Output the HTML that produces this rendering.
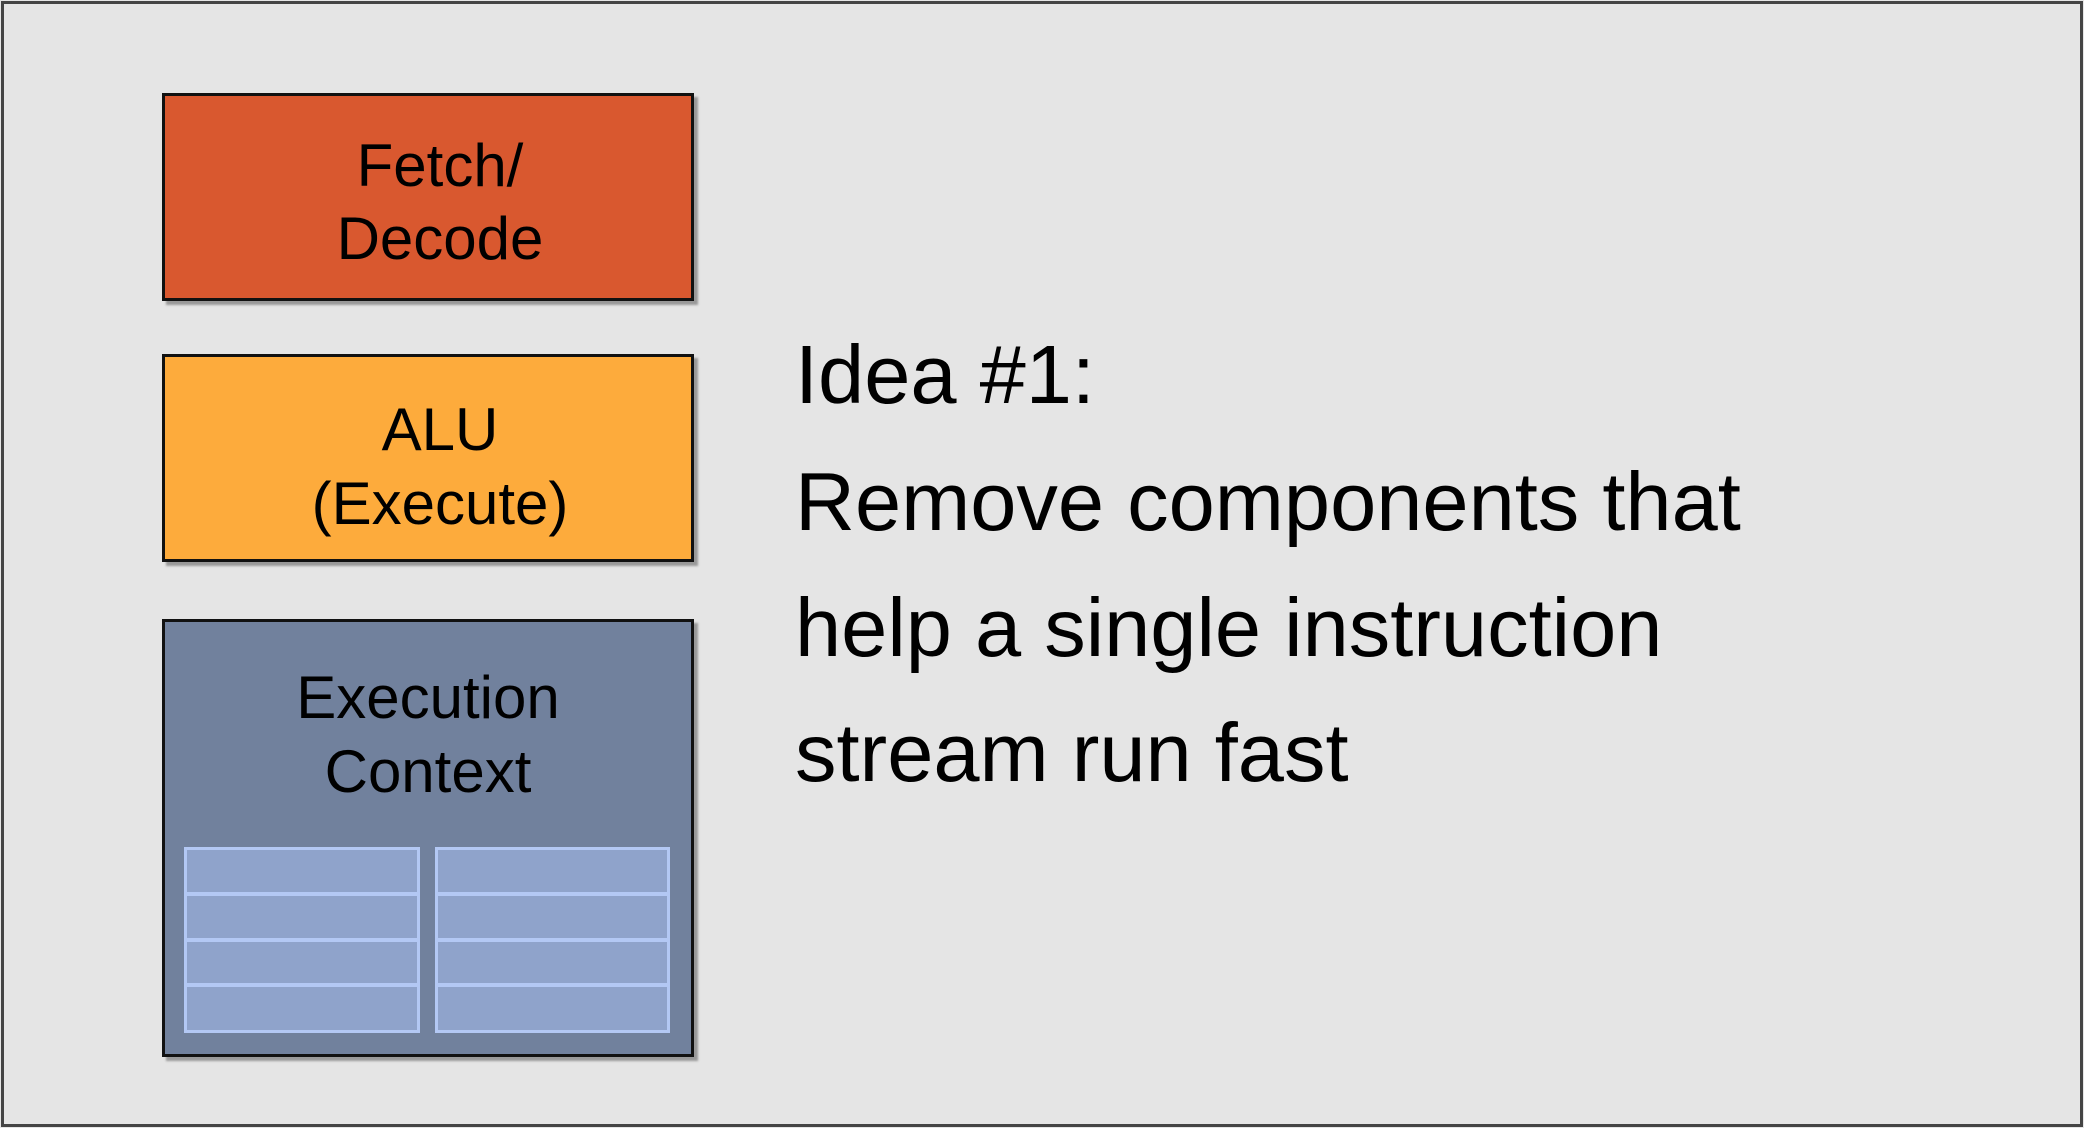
<!DOCTYPE html>
<html><head><style>
html,body{margin:0;padding:0;}
body{width:2084px;height:1128px;position:relative;background:#e5e5e5;font-family:"Liberation Sans",Arial,sans-serif;overflow:hidden;}
.frame{position:absolute;left:1px;top:1px;width:2076px;height:1120px;border:3px solid #444;}
.box{position:absolute;border:3px solid #111;box-shadow:4px 4px 2px #999;box-sizing:border-box;}
.t{position:absolute;left:0;width:100%;text-align:center;font-size:60px;color:#000;line-height:1;}
.cell{position:absolute;background:#8fa3cb;border:3px solid #b3c8f4;box-sizing:border-box;}
.r{position:absolute;left:795px;font-size:83px;color:#000;white-space:nowrap;line-height:1;}
</style></head><body>
<div class="frame"></div>
<div class="box" style="left:162px;top:93px;width:532px;height:208px;background:#d9582f;">
  <div class="t" style="top:40px;left:12px;">Fetch/</div>
  <div class="t" style="top:113px;left:12px;">Decode</div>
</div>
<div class="box" style="left:162px;top:354px;width:532px;height:208px;background:#fdab3c;">
  <div class="t" style="top:43px;left:12px;">ALU</div>
  <div class="t" style="top:117px;left:12px;">(Execute)</div>
</div>
<div class="box" style="left:162px;top:619px;width:532px;height:438px;background:#71819d;">
  <div class="t" style="top:46px;">Execution</div>
  <div class="t" style="top:120px;">Context</div>
</div>
<div class="cell" style="left:184px;top:847px;width:236px;height:48px;"></div>
<div class="cell" style="left:184px;top:893px;width:236px;height:48px;"></div>
<div class="cell" style="left:184px;top:939px;width:236px;height:47px;"></div>
<div class="cell" style="left:184px;top:984px;width:236px;height:49px;"></div>
<div class="cell" style="left:435px;top:847px;width:235px;height:48px;"></div>
<div class="cell" style="left:435px;top:893px;width:235px;height:48px;"></div>
<div class="cell" style="left:435px;top:939px;width:235px;height:47px;"></div>
<div class="cell" style="left:435px;top:984px;width:235px;height:49px;"></div>
<div class="r" style="top:333px;">Idea #1:</div>
<div class="r" style="top:460px;">Remove components that</div>
<div class="r" style="top:586px;">help a single instruction</div>
<div class="r" style="top:711px;">stream run fast</div>
</body></html>
